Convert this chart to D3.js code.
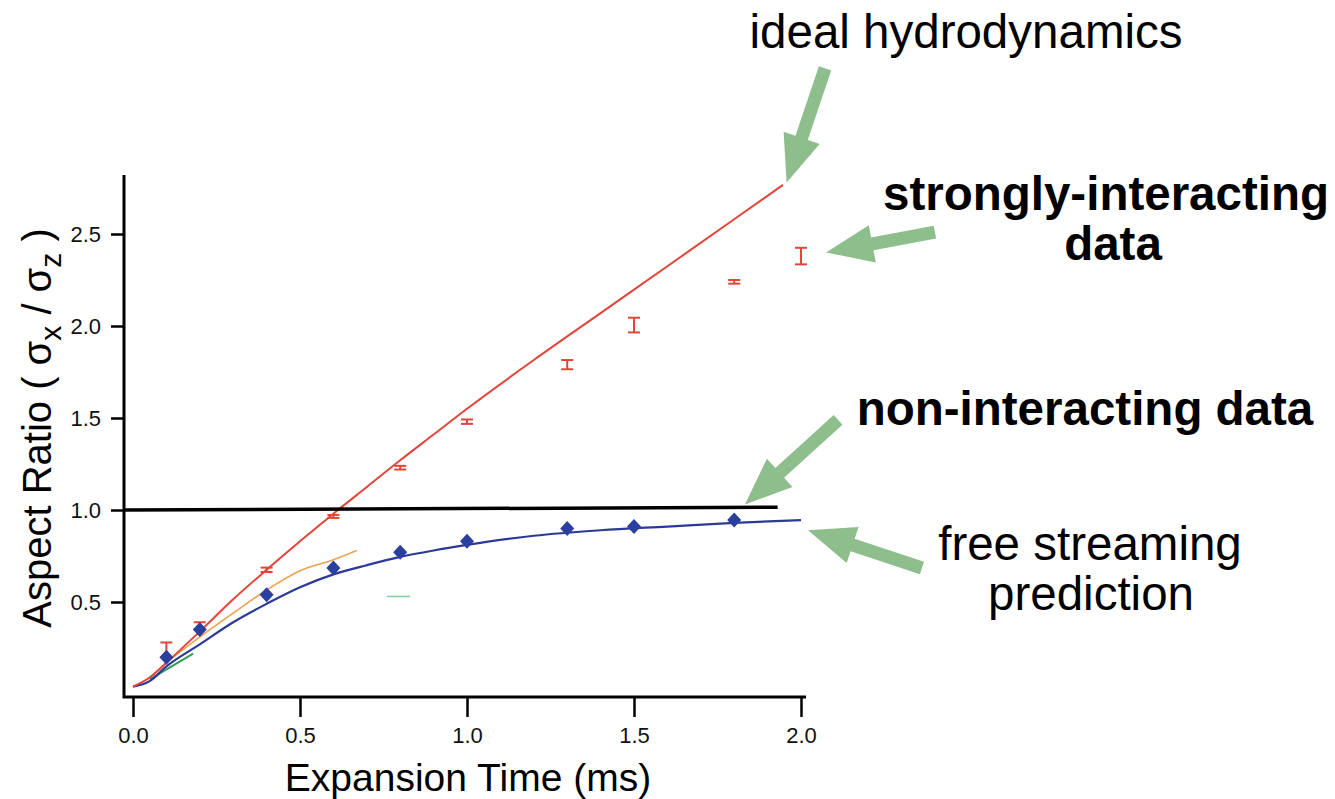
<!DOCTYPE html>
<html>
<head>
<meta charset="utf-8">
<script src="https://cdn.jsdelivr.net/npm/d3@7"></script>
<style>
  body { margin: 0; background: #fff; }
  svg { display: block; }
</style>
</head>
<body>
<svg id="chart" width="1335" height="799"></svg>
<script>
// ideal hydrodynamics prediction (red line)
var hydroTime  = [0, 0.05, 0.1, 0.2, 0.3, 0.4, 0.5, 0.6, 0.7, 0.8, 0.9, 1.0, 1.2, 1.4, 1.6, 1.8, 1.946];
var hydroRatio = [0.04, 0.09, 0.17, 0.34, 0.515, 0.675, 0.83, 0.98, 1.125, 1.27, 1.41, 1.55, 1.815, 2.07, 2.325, 2.58, 2.767];

// free streaming prediction (blue line)
var freeTime  = [0, 0.05, 0.1, 0.2, 0.3, 0.4, 0.5, 0.6, 0.7, 0.8, 0.9, 1.0, 1.2, 1.4, 1.6, 1.8, 2.0];
var freeRatio = [0.04, 0.07, 0.15, 0.27, 0.39, 0.49, 0.58, 0.65, 0.70, 0.745, 0.78, 0.81, 0.86, 0.89, 0.91, 0.93, 0.945];

// faint orange and green fits near the origin
var orangeTime  = [0, 0.05, 0.1, 0.2, 0.3, 0.4, 0.5, 0.6, 0.67];
var orangeRatio = [0.04, 0.09, 0.17, 0.31, 0.44, 0.565, 0.67, 0.73, 0.78];
var greenTime  = [0.05, 0.18];
var greenRatio = [0.08, 0.22];
var greenDashTime  = [0.76, 0.83];
var greenDashRatio = [0.53, 0.53];

// strongly-interacting data (red error bars)
var strongTime  = [0.1, 0.2, 0.4, 0.6, 0.8, 1.0, 1.3, 1.5, 1.8, 2.0];
var strongRatio = [0.24, 0.37, 0.675, 0.965, 1.23, 1.48, 1.79, 2.005, 2.24, 2.38];
var strongErr   = [0.04, 0.02, 0.012, 0.008, 0.01, 0.012, 0.025, 0.04, 0.01, 0.045];

// non-interacting data (blue diamonds)
var freeDataTime  = [0.1, 0.2, 0.4, 0.6, 0.8, 1.0, 1.3, 1.5, 1.8];
var freeDataRatio = [0.20, 0.35, 0.54, 0.685, 0.77, 0.83, 0.90, 0.91, 0.945];

// unity line
var unityTime  = [-0.03, 1.93];
var unityRatio = [1.0, 1.015];

var xTicks = [0, 0.5, 1.0, 1.5, 2.0];
var yTicks = [0.5, 1.0, 1.5, 2.0, 2.5];

// annotation arrows, from -> tip, in data units
var arrows = [
  {from: [2.072, 3.40], to: [1.957, 2.78]},
  {from: [2.401, 2.51], to: [2.075, 2.40]},
  {from: [2.111, 1.49], to: [1.832, 1.03]},
  {from: [2.362, 0.685], to: [2.021, 0.89]}
];

// annotation texts, one entry per line
var notes = [
  {text: "ideal hydrodynamics", x: 966, y: 48, bold: false},
  {text: "strongly-interacting", x: 1106, y: 210, bold: true},
  {text: "data", x: 1113, y: 260, bold: true},
  {text: "non-interacting data", x: 1085, y: 425, bold: true},
  {text: "free streaming", x: 1090, y: 560, bold: false},
  {text: "prediction", x: 1091, y: 610, bold: false}
];

var svg = d3.select("#chart");

var x = d3.scaleLinear().domain([0, 2]).range([133, 801]);
var y = d3.scaleLinear().domain([0, 2.5]).range([694, 234]);

var axisX0 = 124, axisY0 = 697;

function zip(a, b) { return a.map(function(d, i) { return [d, b[i]]; }); }

var line = d3.line()
  .x(function(d) { return x(d[0]); })
  .y(function(d) { return y(d[1]); })
  .curve(d3.curveMonotoneX);

// axes
var gy = svg.append("g")
  .attr("transform", "translate(" + axisX0 + ",0)")
  .call(d3.axisLeft(y).tickValues(yTicks).tickSize(13).tickPadding(10).tickFormat(d3.format(".1f")));
gy.select(".domain").remove();

var gx = svg.append("g")
  .attr("transform", "translate(0," + axisY0 + ")")
  .call(d3.axisBottom(x).tickValues(xTicks).tickSize(20).tickPadding(10).tickFormat(d3.format(".1f")));
gx.select(".domain").remove();

svg.selectAll(".tick line").attr("stroke", "#000").attr("stroke-width", 2.5);
svg.selectAll(".tick text")
  .attr("font-family", "Liberation Sans, Arial, sans-serif")
  .attr("font-size", 22)
  .attr("fill", "#111");

svg.append("path")
  .attr("d", "M" + axisX0 + ",175V" + axisY0 + "H806")
  .attr("fill", "none")
  .attr("stroke", "#000")
  .attr("stroke-width", 3);

// axis titles
svg.append("text")
  .attr("x", 468).attr("y", 791)
  .attr("text-anchor", "middle")
  .attr("font-family", "Liberation Sans, Arial, sans-serif")
  .attr("font-size", 39)
  .text("Expansion Time (ms)");

var yt = svg.append("text")
  .attr("transform", "translate(51,428) rotate(-90)")
  .attr("text-anchor", "middle")
  .attr("font-family", "Liberation Sans, Arial, sans-serif")
  .attr("font-size", 40);
yt.append("tspan").text("Aspect Ratio ( \u03c3");
yt.append("tspan").attr("font-size", 30).attr("dy", 10).text("x");
yt.append("tspan").attr("dy", -10).text(" / \u03c3");
yt.append("tspan").attr("font-size", 30).attr("dy", 10).text("z");
yt.append("tspan").attr("dy", -10).text(" )");

// curves
svg.append("path").datum(zip(orangeTime, orangeRatio))
  .attr("d", line).attr("fill", "none")
  .attr("stroke", "#f0a24e").attr("stroke-width", 1.6);

svg.append("path").datum(zip(greenTime, greenRatio))
  .attr("d", line).attr("fill", "none")
  .attr("stroke", "#2ea05a").attr("stroke-width", 2);

svg.append("path").datum(zip(greenDashTime, greenDashRatio))
  .attr("d", line).attr("fill", "none")
  .attr("stroke", "#7fcf9a").attr("stroke-width", 1.5);

svg.append("path").datum(zip(freeTime, freeRatio))
  .attr("d", line).attr("fill", "none")
  .attr("stroke", "#2b3a96").attr("stroke-width", 2.2);

svg.append("path").datum(zip(hydroTime, hydroRatio))
  .attr("d", line).attr("fill", "none")
  .attr("stroke", "#e2453a").attr("stroke-width", 2);

svg.append("path").datum(zip(unityTime, unityRatio))
  .attr("d", d3.line().x(function(d) { return x(d[0]); }).y(function(d) { return y(d[1]); }))
  .attr("stroke", "#000").attr("stroke-width", 3.5);

// error bars
var eb = svg.append("g")
  .attr("stroke", "#e2453a")
  .attr("stroke-width", 2)
  .selectAll("g")
  .data(strongTime.map(function(t, i) { return {t: t, v: strongRatio[i], e: strongErr[i]}; }))
  .enter().append("g");

eb.append("line")
  .attr("x1", function(d) { return x(d.t); }).attr("x2", function(d) { return x(d.t); })
  .attr("y1", function(d) { return y(d.v - d.e); }).attr("y2", function(d) { return y(d.v + d.e); });
eb.append("line")
  .attr("x1", function(d) { return x(d.t) - 6; }).attr("x2", function(d) { return x(d.t) + 6; })
  .attr("y1", function(d) { return y(d.v + d.e); }).attr("y2", function(d) { return y(d.v + d.e); });
eb.append("line")
  .attr("x1", function(d) { return x(d.t) - 6; }).attr("x2", function(d) { return x(d.t) + 6; })
  .attr("y1", function(d) { return y(d.v - d.e); }).attr("y2", function(d) { return y(d.v - d.e); });

// diamonds
svg.append("g")
  .selectAll("path")
  .data(zip(freeDataTime, freeDataRatio))
  .enter().append("path")
  .attr("transform", function(d) { return "translate(" + x(d[0]) + "," + y(d[1]) + ")"; })
  .attr("d", "M0,-7.5L7,0L0,7.5L-7,0Z")
  .attr("fill", "#2a3f9e");

// arrows
function arrowPath(a) {
  var sx = x(a.from[0]), sy = y(a.from[1]), tx = x(a.to[0]), ty = y(a.to[1]);
  var dx = tx - sx, dy = ty - sy, len = Math.sqrt(dx * dx + dy * dy);
  var ux = dx / len, uy = dy / len, nx = -uy, ny = ux;
  var headLen = 47, headW = 19, shaftW = 6.5;
  var bx = tx - ux * headLen, by = ty - uy * headLen;
  var pts = [
    [sx + nx * shaftW, sy + ny * shaftW],
    [bx + nx * shaftW, by + ny * shaftW],
    [bx + nx * headW, by + ny * headW],
    [tx, ty],
    [bx - nx * headW, by - ny * headW],
    [bx - nx * shaftW, by - ny * shaftW],
    [sx - nx * shaftW, sy - ny * shaftW]
  ];
  return "M" + pts.join("L") + "Z";
}

svg.append("g")
  .selectAll("path")
  .data(arrows)
  .enter().append("path")
  .attr("d", arrowPath)
  .attr("fill", "#8dbe8c");

// labels
svg.append("g")
  .selectAll("text")
  .data(notes)
  .enter().append("text")
  .attr("x", function(d) { return d.x; })
  .attr("y", function(d) { return d.y; })
  .attr("text-anchor", "middle")
  .attr("font-family", "Liberation Sans, Arial, sans-serif")
  .attr("font-weight", function(d) { return d.bold ? "bold" : "normal"; })
  .attr("font-size", 47.5)
  .attr("fill", "#000")
  .text(function(d) { return d.text; });
</script>
</body>
</html>
